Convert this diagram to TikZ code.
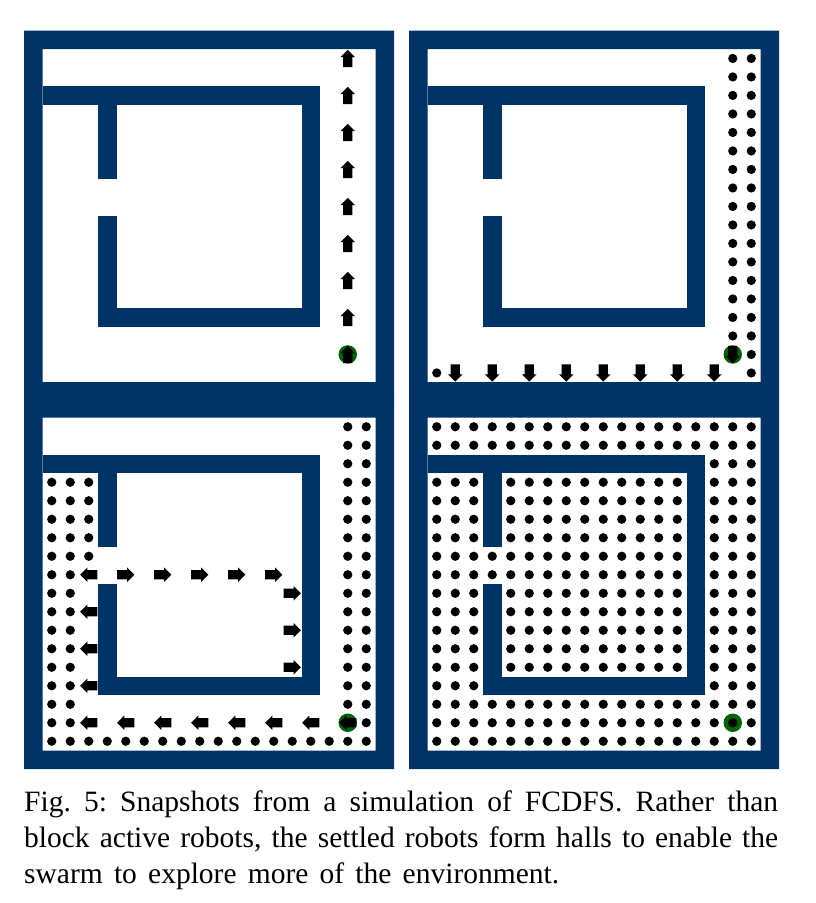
\documentclass[tikz,border=0pt]{standalone}
\usepackage{fontspec}
\setmainfont{Liberation Serif}
\definecolor{wallblue}{RGB}{0,51,102}
\definecolor{leadergreen}{RGB}{0,100,0}
\tikzset{
  wall/.style={fill=wallblue,draw=none},
  robotdot/.style={fill=black,draw=none},
  leaderdisc/.style={fill=leadergreen,draw=none},
  cell/.style={x=18.5pt,y=-18.5pt},
  captionline/.style={anchor=base west,inner sep=0pt,font=\fontsize{29.5}{36}\selectfont\frenchspacing},
  robotarrow/.pic={\fill[black] (-.47,-.25) -- (.07,-.25) -- (.07,-.4) -- (.47,0) -- (.07,.4) -- (.07,.25) -- (-.47,.25) -- cycle;}
}
% map of one panel, in cell units
\newcommand{\mapwalls}{%
  \fill[wall,even odd rule] (0,0) rectangle (20,20) (1,1) rectangle (19,19);
  \fill[wall] (1,3) rectangle (16,4);
  \fill[wall] (15,3) rectangle (16,16);
  \fill[wall] (4,15) rectangle (16,16);
  \fill[wall] (4,3) rectangle (5,8);
  \fill[wall] (4,10) rectangle (5,16);
}
\newcommand{\dotblock}[2]{%
  \foreach \cc in {#1}{\foreach \rr in {#2}{\fill[robotdot] (\cc+.5,\rr+.5) circle (.25);}}
}
\newcommand{\arrowat}[3]{\pic[rotate=#3] at (#1+.5,#2+.5) {robotarrow};}
\newcommand{\leaderat}[2]{\fill[leaderdisc] (#1+.5,#2+.5) circle (.5);}
\begin{document}
\begin{tikzpicture}[x=1pt,y=-1pt]
\useasboundingbox (0,0) rectangle (816,903);
% top left
\begin{scope}[shift={(24pt,-30.7pt)},cell]
  \mapwalls
  \leaderat{17}{17}
  \foreach \rr in {1,3,...,17}{\arrowat{17}{\rr}{90}}
\end{scope}
% top right
\begin{scope}[shift={(409pt,-30.7pt)},cell]
  \mapwalls
  \dotblock{17,18}{1,...,16}
  \dotblock{18}{17,18}
  \dotblock{1}{18}
  \leaderat{17}{17}
  \arrowat{17}{17}{-90}
  \foreach \cc in {2,4,...,16}{\arrowat{\cc}{18}{-90}}
\end{scope}
% bottom left
\begin{scope}[shift={(24pt,-399pt)},cell]
  \mapwalls
  \dotblock{17,18}{1,...,16}
  \dotblock{18}{17}
  \dotblock{1,2}{4,...,17}
  \dotblock{3}{4,...,8}
  \dotblock{1,...,18}{18}
  \leaderat{17}{17}
  \foreach \cc in {3,5,...,17}{\arrowat{\cc}{17}{180}}
  \foreach \rr in {9,11,13,15}{\arrowat{3}{\rr}{180}}
  \foreach \cc in {5,7,...,13}{\arrowat{\cc}{9}{0}}
  \foreach \rr in {10,12,14}{\arrowat{14}{\rr}{0}}
\end{scope}
% bottom right
\begin{scope}[shift={(409pt,-399pt)},cell]
  \mapwalls
  \dotblock{1,...,18}{1,2,16,18}
  \dotblock{16,17,18}{3}
  \dotblock{1,2,3,5,6,7,8,9,10,11,12,13,14,16,17,18}{4,5,6,7,10,11,12,13,14}
  \dotblock{1,...,14,16,17,18}{8,9}
  \dotblock{1,2,3,16,17,18}{15}
  \dotblock{1,...,16,18}{17}
  \leaderat{17}{17}
  \dotblock{17}{17}
\end{scope}
\node[captionline] (caption1) at (24,811.7) {\makebox[754pt][s]{Fig. 5: Snapshots from a simulation of FCDFS. Rather than}};
\node[captionline] (caption2) at (24,847.7) {\makebox[754pt][s]{block active robots, the settled robots form halls to enable the}};
\node[captionline] (caption3) at (24,883.3) {\makebox[535pt][s]{swarm to explore more of the environment.}};
\end{tikzpicture}
\end{document}
